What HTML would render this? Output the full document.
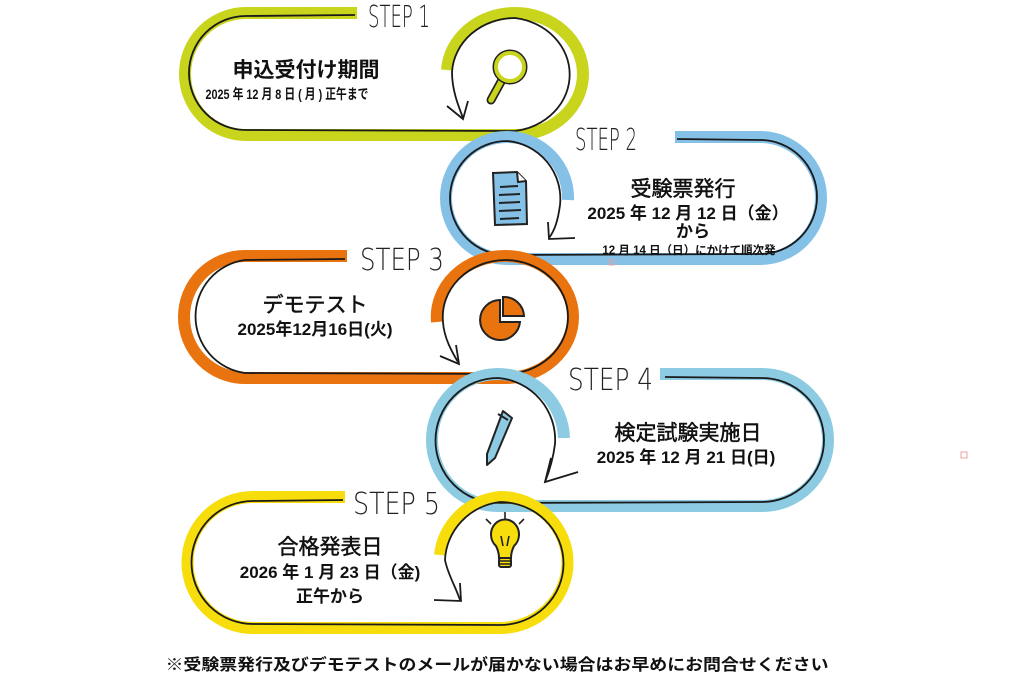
<!DOCTYPE html>
<html><head><meta charset="utf-8">
<style>
html,body{margin:0;padding:0;background:#fff;}
svg{display:block;}
.t{font-family:"Liberation Sans","Noto Sans CJK JP",sans-serif;fill:#111;text-anchor:middle;}
.h{stroke:#111;stroke-width:0.5;}
.s{font-family:"DejaVu Sans","Liberation Sans",sans-serif;font-weight:200;fill:#222;font-size:30px;}
</style></head><body>
<svg width="1024" height="677" viewBox="0 0 1024 677" xmlns="http://www.w3.org/2000/svg">
<g fill="none" stroke-linecap="butt">
<!-- STEP 1 -->
<path d="M357 13 L246 13 A61 61 0 0 0 246 135 L515 135 A68 61 0 0 0 515 13 A68 61 0 0 0 447 70" stroke="#c9d41c" stroke-width="12"/>
<path d="M355 15 L246 16 A57 57 0 0 0 246 130 L515 131 A63 57 0 0 0 515 18 A63 57 0 0 0 452 72 C452 90 458 105 463 118" stroke="#1a1a1a" stroke-width="1.8"/>
<path d="M447 106 L463 119 L468 101" stroke="#1a1a1a" stroke-width="1.8"/>
<!-- STEP 2 -->
<path d="M675 137 L760 137 A61 61 0 0 1 760 259 L507 259 A61 61 0 0 1 507 137 A61 61 0 0 1 568 200" stroke="#85c1e6" stroke-width="12"/>
<path d="M677 139 L760 140 A57 57 0 0 1 760 254 L507 255 A57 57 0 0 1 507 141 A58 58 0 0 1 560 205 C558 220 555 230 549 238" stroke="#1a1a1a" stroke-width="1.8"/>
<path d="M548 222 L549 239 L575 238" stroke="#1a1a1a" stroke-width="1.8"/>
<!-- STEP 3 -->
<path d="M347 256 L245 256 A61 61 0 0 0 245 378 L505 378 A68 61 0 0 0 505 256 A68 61 0 0 0 437 322" stroke="#e8730f" stroke-width="12"/>
<path d="M345 259 L245 260 A57 57 0 0 0 245 373 L505 374 A63 57 0 0 0 505 260 A63 57 0 0 0 443 322 C444 338 452 352 458 362" stroke="#1a1a1a" stroke-width="1.8"/>
<path d="M440 356 L459 364 L456 345" stroke="#1a1a1a" stroke-width="1.8"/>
<!-- STEP 4 -->
<path d="M660 374 L762 374 A66 66 0 0 1 762 506 L498 506 A66 66 0 0 1 498 374 A66 66 0 0 1 564 438" stroke="#8ccbe2" stroke-width="12"/>
<path d="M665 377 L762 378 A62 62 0 0 1 762 502 L498 503 A62 62 0 0 1 498 378 A62 62 0 0 1 555 444 C553 460 549 472 545 482" stroke="#1a1a1a" stroke-width="1.8"/>
<path d="M551 458 L545 482 L578 472" stroke="#1a1a1a" stroke-width="1.8"/>
<!-- STEP 5 -->
<path d="M345 497 L253 497 A65 65 0 0 0 253 628 L500 628 A67 65 0 0 0 500 497 A67 65 0 0 0 440 555" stroke="#f7dd0b" stroke-width="12"/>
<path d="M343 500 L253 501 A61 61 0 0 0 253 624 L500 625 A63 61 0 0 0 500 502 A63 61 0 0 0 445 560 C448 575 455 585 460 600" stroke="#1a1a1a" stroke-width="1.8"/>
<path d="M434 600 L461 601 L460 583" stroke="#1a1a1a" stroke-width="1.8"/>
</g>
<!-- STEP labels -->
<text class="s" x="368" y="27" textLength="62" lengthAdjust="spacingAndGlyphs">STEP 1</text>
<text class="s" x="575" y="150" textLength="62" lengthAdjust="spacingAndGlyphs">STEP 2</text>
<text class="s" x="360" y="270" textLength="84" lengthAdjust="spacingAndGlyphs">STEP 3</text>
<text class="s" x="568" y="390" textLength="85" lengthAdjust="spacingAndGlyphs">STEP 4</text>
<text class="s" x="353" y="514" textLength="87" lengthAdjust="spacingAndGlyphs">STEP 5</text>
<!-- icons -->
<g stroke="#222" stroke-width="2">
<path d="M502 80 L491 100" stroke="#222" stroke-width="9" stroke-linecap="round"/>
<path d="M502 80 L491 100" stroke="#c9d41c" stroke-width="5.5" stroke-linecap="round"/>
<circle cx="510" cy="67" r="14" fill="#fff" stroke="#222" stroke-width="7"/>
<circle cx="510" cy="67" r="14" fill="#fff" stroke="#c9d41c" stroke-width="4"/>
<path d="M493 173 L517 172 L526 181 L527 224 L495 225 Z" fill="#85c1e6"/>
<path d="M517 172 L518 182 L526 181" fill="#fff"/>
<path d="M500 187 L518 186 M499 195 L520 194 M499 203 L520 202 M499 211 L521 210 M500 219 L519 218" fill="none"/>
<path d="M500 300 A20 20 0 1 0 520 322 L500 322 Z" fill="#e8730f"/>
<path d="M503 297 A20 20 0 0 1 524 316 L503 316 Z" fill="#e8730f"/>
<path d="M503 411 L512 418 L495 458 L487 465 L487 454 Z" fill="#8ccbe2" stroke-linejoin="round"/>
<path d="M498 414 L508 420" fill="none"/>
<path d="M496 546 a14 15 0 1 1 18 0 c-2 4 -3 8 -3 12 h-12 c0 -4 -1 -8 -3 -12 z" fill="#f7dd0b"/>
<rect x="499" y="558" width="12" height="9" rx="2" fill="#f7dd0b"/>
<path d="M499 561 h12 M499 564 h12 M501 536 l2 10 M509 536 l-2 10 M505 520 v-8 M491 524 l-5 -5 M519 524 l5 -5" fill="none" stroke-width="1.6"/>
</g>
<!-- texts -->
<text class="t" x="306" y="77" font-size="21" font-weight="bold">申込受付け期間</text>
<text class="t" x="287" y="99" font-size="14" font-weight="bold" textLength="163" lengthAdjust="spacingAndGlyphs">2025 年 12 月 8 日 ( 月 ) 正午まで</text>
<text class="t h" x="683" y="196" font-size="21">受験票発行</text>
<text class="t" x="688" y="219" font-size="17" font-weight="bold">2025 年 12 月 12 日（金）</text>
<text class="t" x="693" y="237" font-size="17" font-weight="bold">から</text>
<text class="t" x="689" y="254" font-size="11.5" font-weight="bold">12 月 14 日（日）にかけて順次発</text>
<text class="t h" x="315" y="312" font-size="21">デモテスト</text>
<text class="t" x="315" y="335" font-size="17" font-weight="bold">2025年12月16日(火)</text>
<text class="t h" x="688" y="440" font-size="21">検定試験実施日</text>
<text class="t" x="686" y="463" font-size="17" font-weight="bold">2025 年 12 月 21 日(日)</text>
<text class="t h" x="330" y="554" font-size="21">合格発表日</text>
<text class="t" x="330" y="578" font-size="17" font-weight="bold">2026 年 1 月 23 日（金)</text>
<text class="t" x="330" y="602" font-size="17" font-weight="bold">正午から</text>
<text class="t" x="497" y="670" font-size="16" font-weight="bold" textLength="663" lengthAdjust="spacingAndGlyphs">※受験票発行及びデモテストのメールが届かない場合はお早めにお問合せください</text>
<rect x="961" y="452" width="6" height="6" fill="none" stroke="#e8a0a0" stroke-width="1"/>
<rect x="609" y="260" width="5" height="5" fill="none" stroke="#e8a0a0" stroke-width="1"/>
</svg>
</body></html>
